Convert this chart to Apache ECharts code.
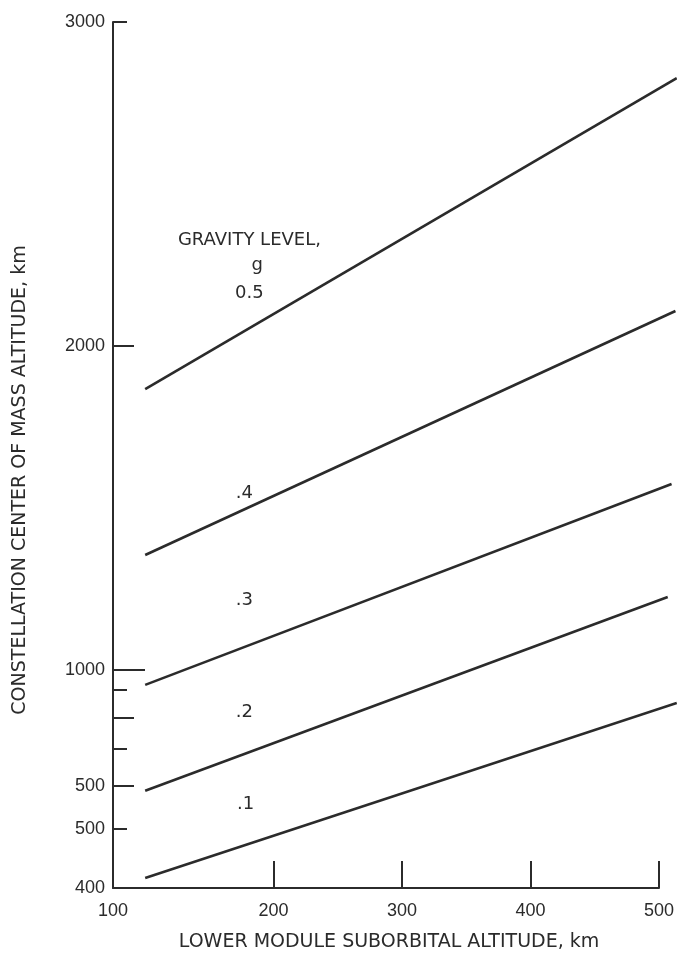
<!DOCTYPE html>
<html>
<head>
<meta charset="utf-8">
<script src="https://cdn.jsdelivr.net/npm/echarts@6/dist/echarts.min.js"></script>
<style>
  html, body { margin: 0; padding: 0; background: #fff; }
  #chart { width: 677px; height: 955px; }
</style>
</head>
<body>
<div id="chart"></div>
<script>
// ---- data (y values in the axis' linear units; the 1000–3000 part is km) ----
const gravityLevels = ['0.5', '.4', '.3', '.2', '.1'];
const xStart = [100, 100, 100, 100, 100];
const xEnd   = [513, 512, 509, 506, 513];
const yStart = [1867, 1355, 954, 627, 358];
const yEnd   = [2827, 2108, 1574, 1225, 898];

// tick labels
const xTickValues = [200, 300, 400, 500];
const xLabelValues = [75, 200, 300, 400, 500];
const xLabelTexts  = ['100', '200', '300', '400', '500'];
const yLabelValues = [327, 509, 642, 1000, 2000, 3000];
const yLabelTexts  = ['400', '500', '500', '1000', '2000', '3000'];
const yTicksShort  = [3000, 938, 756, 509];
const yTicksMid    = [2000, 852, 642];
const yTicksLong   = [1000];

// annotations
const noteX    = [181, 187, 181, 177, 177, 177, 178];
const noteY    = [2327, 2250, 2164, 1546, 1216, 870, 586];
const noteText = ['GRAVITY LEVEL,', 'g', '0.5', '.4', '.3', '.2', '.1'];

const ink = '#2b2b2b';
const numFont = 'Liberation Sans, Arial, sans-serif';
const txtFont = 'DejaVu Sans, sans-serif';

const chart = echarts.init(document.getElementById('chart'), null, { renderer: 'canvas' });

const X_MIN = 75, X_MAX = 500, Y_MIN = 327, Y_MAX = 3000;
const G_LEFT = 113, G_RIGHT = 17, G_TOP = 22, G_BOTTOM = 67, W = 677;
// data area extended to the page's right edge, same scale as the axis grid
const X_MAX_WIDE = X_MIN + (X_MAX - X_MIN) * (W - G_LEFT) / (W - G_LEFT - G_RIGHT);

const yBase = { type: 'value', min: Y_MIN, max: Y_MAX, position: 'left', offset: 0,
  gridIndex: 0, splitLine: { show: false } };

function extraY(ticks, len) {
  return Object.assign({}, yBase, {
    axisLine: { show: false },
    axisLabel: { show: false },
    axisTick: { show: true, inside: true, length: len, customValues: ticks,
      lineStyle: { color: ink, width: 2 } }
  });
}

const series = gravityLevels.map((g, i) => ({
  name: g,
  type: 'line',
  xAxisIndex: 1, yAxisIndex: 3,
  clip: false,
  showSymbol: false,
  symbol: 'none',
  silent: true,
  lineStyle: { color: ink, width: 2.6 },
  data: [[xStart[i], yStart[i]], [xEnd[i], yEnd[i]]]
}));

series.push({
  type: 'scatter',
  xAxisIndex: 1, yAxisIndex: 3,
  symbolSize: 1,
  itemStyle: { color: 'rgba(0,0,0,0)' },
  silent: true,
  label: {
    show: true, position: 'inside', color: ink, opacity: 1,
    fontFamily: txtFont, fontSize: 18,
    formatter: p => p.data[2]
  },
  data: noteText.map((t, i) => [noteX[i], noteY[i], t])
});

chart.setOption({
  animation: false,
  backgroundColor: '#ffffff',
  grid: [
    { left: G_LEFT, right: G_RIGHT, top: G_TOP, bottom: G_BOTTOM, containLabel: false },
    { left: G_LEFT, right: 0, top: G_TOP, bottom: G_BOTTOM, containLabel: false }
  ],
  xAxis: [
    {
      type: 'value', min: X_MIN, max: X_MAX, gridIndex: 0,
      splitLine: { show: false },
      axisLine: { show: true, lineStyle: { color: ink, width: 2 } },
      axisTick: { show: true, inside: true, length: 27, customValues: xTickValues,
        lineStyle: { color: ink, width: 2 } },
      axisLabel: {
        customValues: xLabelValues, margin: 14, color: ink,
        fontFamily: numFont, fontSize: 18,
        formatter: v => xLabelTexts[xLabelValues.indexOf(v)] || ''
      }
    },
    {
      type: 'value', min: X_MIN, max: X_MAX_WIDE, gridIndex: 1, show: false,
      splitLine: { show: false }
    }
  ],
  yAxis: [
    Object.assign({}, yBase, {
      axisLine: { show: true, lineStyle: { color: ink, width: 2 } },
      axisTick: { show: true, inside: true, length: 14, customValues: yTicksShort,
        lineStyle: { color: ink, width: 2 } },
      axisLabel: {
        customValues: yLabelValues, margin: 8, color: ink,
        fontFamily: numFont, fontSize: 18,
        formatter: v => yLabelTexts[yLabelValues.indexOf(v)] || ''
      }
    }),
    extraY(yTicksMid, 21),
    extraY(yTicksLong, 32),
    { type: 'value', min: Y_MIN, max: Y_MAX, gridIndex: 1, show: false,
      splitLine: { show: false } }
  ],
  graphic: [
    {
      type: 'text', x: 20, y: 480, rotation: Math.PI / 2,
      style: { text: 'CONSTELLATION CENTER OF MASS ALTITUDE, km', fill: ink,
        font: '19px ' + txtFont, align: 'center', verticalAlign: 'middle' }
    },
    {
      type: 'text', x: 389, y: 942,
      style: { text: 'LOWER MODULE SUBORBITAL ALTITUDE, km', fill: ink,
        font: '19px ' + txtFont, align: 'center', verticalAlign: 'middle' }
    }
  ],
  series: series
});
</script>
</body>
</html>
